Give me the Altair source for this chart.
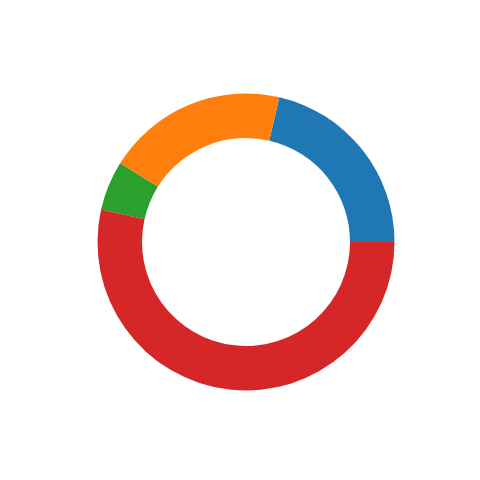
import math
import altair as alt
import pandas as pd

categories = ["A", "B", "C", "D"]
values = [21.4, 19.7, 5.4, 53.5]
colors = ["#1f77b4", "#ff7f0e", "#2ca02c", "#d62728"]

df = pd.DataFrame({"category": categories, "value": values, "order": list(range(len(categories)))})

chart = alt.Chart(df).mark_arc(outerRadius=148.5, innerRadius=104).encode(
    theta=alt.Theta("value:Q", stack=True,
                    scale=alt.Scale(range=[2.5 * math.pi, 0.5 * math.pi])),
    color=alt.Color("category:N", scale=alt.Scale(domain=categories, range=colors), legend=None),
    order=alt.Order("order:Q"),
    x=alt.value(238),
    y=alt.value(234),
).properties(width=464, height=464, padding=0).configure_view(stroke=None)

chart.save("out.html", embed_options={"renderer": "svg", "actions": False})
